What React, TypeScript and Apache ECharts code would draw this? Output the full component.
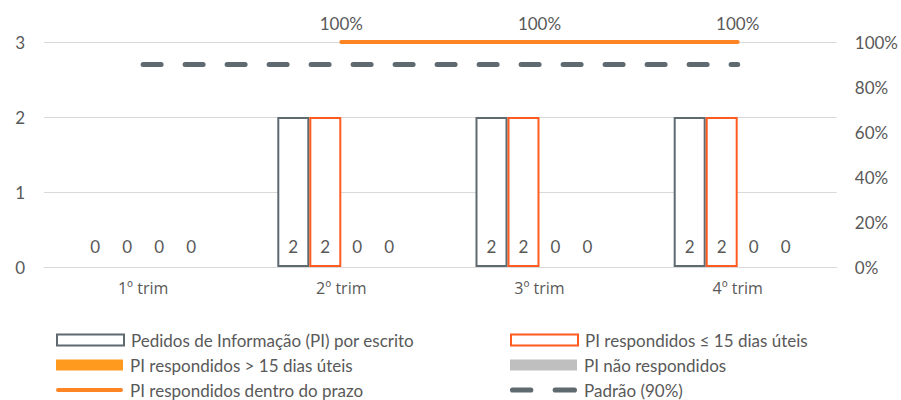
import React, { useEffect, useRef } from "react";
import * as echarts from "echarts";

const categories = ["1º trim", "2º trim", "3º trim", "4º trim"];
const pedidos = [0, 2, 2, 2];
const respondidosAte15 = [0, 2, 2, 2];
const respondidosMais15 = [0, 0, 0, 0];
const naoRespondidos = [0, 0, 0, 0];
const dentroPrazo: (number | null)[] = [null, 1, 1, 1];
const padrao = [0.9, 0.9, 0.9, 0.9];
const leftTicks = { min: 0, max: 3, interval: 1 };
const rightTicks = { min: 0, max: 1, interval: 0.2 };

const names = {
  pedidos: "Pedidos de Informação (PI) por escrito",
  ate15: "PI respondidos ≤ 15 dias úteis",
  mais15: "PI respondidos > 15 dias úteis",
  nao: "PI não respondidos",
  prazo: "PI respondidos dentro do prazo",
  padrao: "Padrão (90%)",
};

const FONT = "Lato";
const FS = 17;
const TXT = "#595959";
const DARK = "#5f6970";
const RED = "#ff5a1f";
const ORANGE = "#ff9a1f";
const LINE_OR = "#ff8424";
const GRAYBAR = "#bfbfbf";

const ICON_LINE = "path://M2,0H65A2,2,0,0,1,65,4H2A2,2,0,0,1,2,0Z";
const ICON_DASH =
  "path://M2.5,0H20.5A2.5,2.5,0,0,1,20.5,5H2.5A2.5,2.5,0,0,1,2.5,0Z M44.5,0H63.5A2.5,2.5,0,0,1,63.5,5H44.5A2.5,2.5,0,0,1,44.5,0Z";

const withBorderOff = (arr: number[]) =>
  arr.map((v) => (v === 0 ? { value: v, itemStyle: { borderWidth: 0 } } : v));

export default function App() {
  const ref = useRef<HTMLDivElement>(null);
  useEffect(() => {
    if (!ref.current) return;
    const chart = echarts.init(ref.current, undefined, { renderer: "svg" });
    const barLabel = {
      show: true,
      position: "insideBottom" as const,
      distance: 12,
      color: TXT,
      fontSize: FS,
      fontFamily: FONT,
    };
    const leg = (left: number, top: number, item: any) => ({
      left,
      top,
      padding: 0,
      itemWidth: 67,
      itemHeight: 11,
      selectedMode: false,
      symbolKeepAspect: true,
      textStyle: { color: TXT, fontSize: FS, fontFamily: FONT, lineHeight: 20, padding: [0, 0, 0, 2] },
      data: [item],
    });
    chart.setOption({
      animation: false,
      textStyle: { fontFamily: FONT },
      grid: { left: 44, right: 61, top: 42, bottom: 133 },
      legend: [
        leg(56, 330, { name: names.pedidos, icon: "rect", itemStyle: { color: "#fff", borderColor: DARK, borderWidth: 2 } }),
        leg(56, 355, { name: names.mais15, icon: "rect", itemStyle: { color: ORANGE, borderWidth: 0 } }),
        leg(56, 380, { name: names.prazo, icon: ICON_LINE, itemStyle: { color: LINE_OR, borderWidth: 0 } }),
        leg(510, 330, { name: names.ate15, icon: "rect", itemStyle: { color: "#fff", borderColor: RED, borderWidth: 2 } }),
        leg(510, 355, { name: names.nao, icon: "rect", itemStyle: { color: GRAYBAR, borderWidth: 0 } }),
        leg(510, 380, { name: names.padrao, icon: ICON_DASH, itemStyle: { color: DARK, borderWidth: 0 } }),
      ],
      xAxis: {
        type: "category",
        data: categories,
        axisLine: { lineStyle: { color: "#d9d9d9", width: 1 } },
        axisTick: { show: false },
        axisLabel: { color: TXT, fontSize: 16, fontFamily: "Open Sans", margin: 13 },
      },
      yAxis: [
        {
          type: "value",
          ...leftTicks,
          axisLine: { show: false },
          axisTick: { show: false },
          splitLine: { lineStyle: { color: "#d9d9d9", width: 1 } },
          axisLabel: { color: TXT, fontSize: FS, fontFamily: FONT, margin: 19 },
        },
        {
          type: "value",
          ...rightTicks,
          position: "right",
          axisLine: { show: false },
          axisTick: { show: false },
          splitLine: { show: false },
          axisLabel: {
            color: TXT,
            fontSize: FS,
            fontFamily: FONT,
            margin: 18,
            formatter: (v: number) => Math.round(v * 100) + "%",
          },
        },
      ],
      series: [
        {
          name: names.pedidos,
          type: "bar",
          data: withBorderOff(pedidos),
          barWidth: 32,
          barGap: "0%",
          itemStyle: { color: "#fff", borderColor: DARK, borderWidth: 2 },
          label: barLabel,
        },
        {
          name: names.ate15,
          type: "bar",
          data: withBorderOff(respondidosAte15),
          barWidth: 32,
          barGap: "0%",
          itemStyle: { color: "#fff", borderColor: RED, borderWidth: 2 },
          label: barLabel,
        },
        {
          name: names.mais15,
          type: "bar",
          data: respondidosMais15,
          barWidth: 32,
          barGap: "0%",
          itemStyle: { color: ORANGE },
          label: barLabel,
        },
        {
          name: names.nao,
          type: "bar",
          data: naoRespondidos,
          barWidth: 32,
          barGap: "0%",
          itemStyle: { color: GRAYBAR },
          label: barLabel,
        },
        {
          name: names.prazo,
          type: "line",
          yAxisIndex: 1,
          data: dentroPrazo,
          symbol: "circle",
          symbolSize: 0.01,
          showSymbol: true,
          itemStyle: { color: LINE_OR },
          lineStyle: { color: LINE_OR, width: 4, cap: "round" },
          label: {
            show: true,
            position: "top",
            distance: 10,
            color: TXT,
            fontSize: FS,
            fontFamily: FONT,
            formatter: (p: any) => Math.round(p.value * 100) + "%",
          },
          z: 5,
        },
        {
          name: names.padrao,
          type: "line",
          yAxisIndex: 1,
          data: padrao,
          symbol: "none",
          itemStyle: { color: DARK },
          lineStyle: { color: DARK, width: 5, type: [18, 24], cap: "round" },
          z: 4,
        },
      ],
    });
    return () => chart.dispose();
  }, []);
  return (
    <div
      ref={ref}
      style={{ position: "fixed", left: 0, top: 0, width: 901, height: 400, background: "#fff" }}
    />
  );
}
